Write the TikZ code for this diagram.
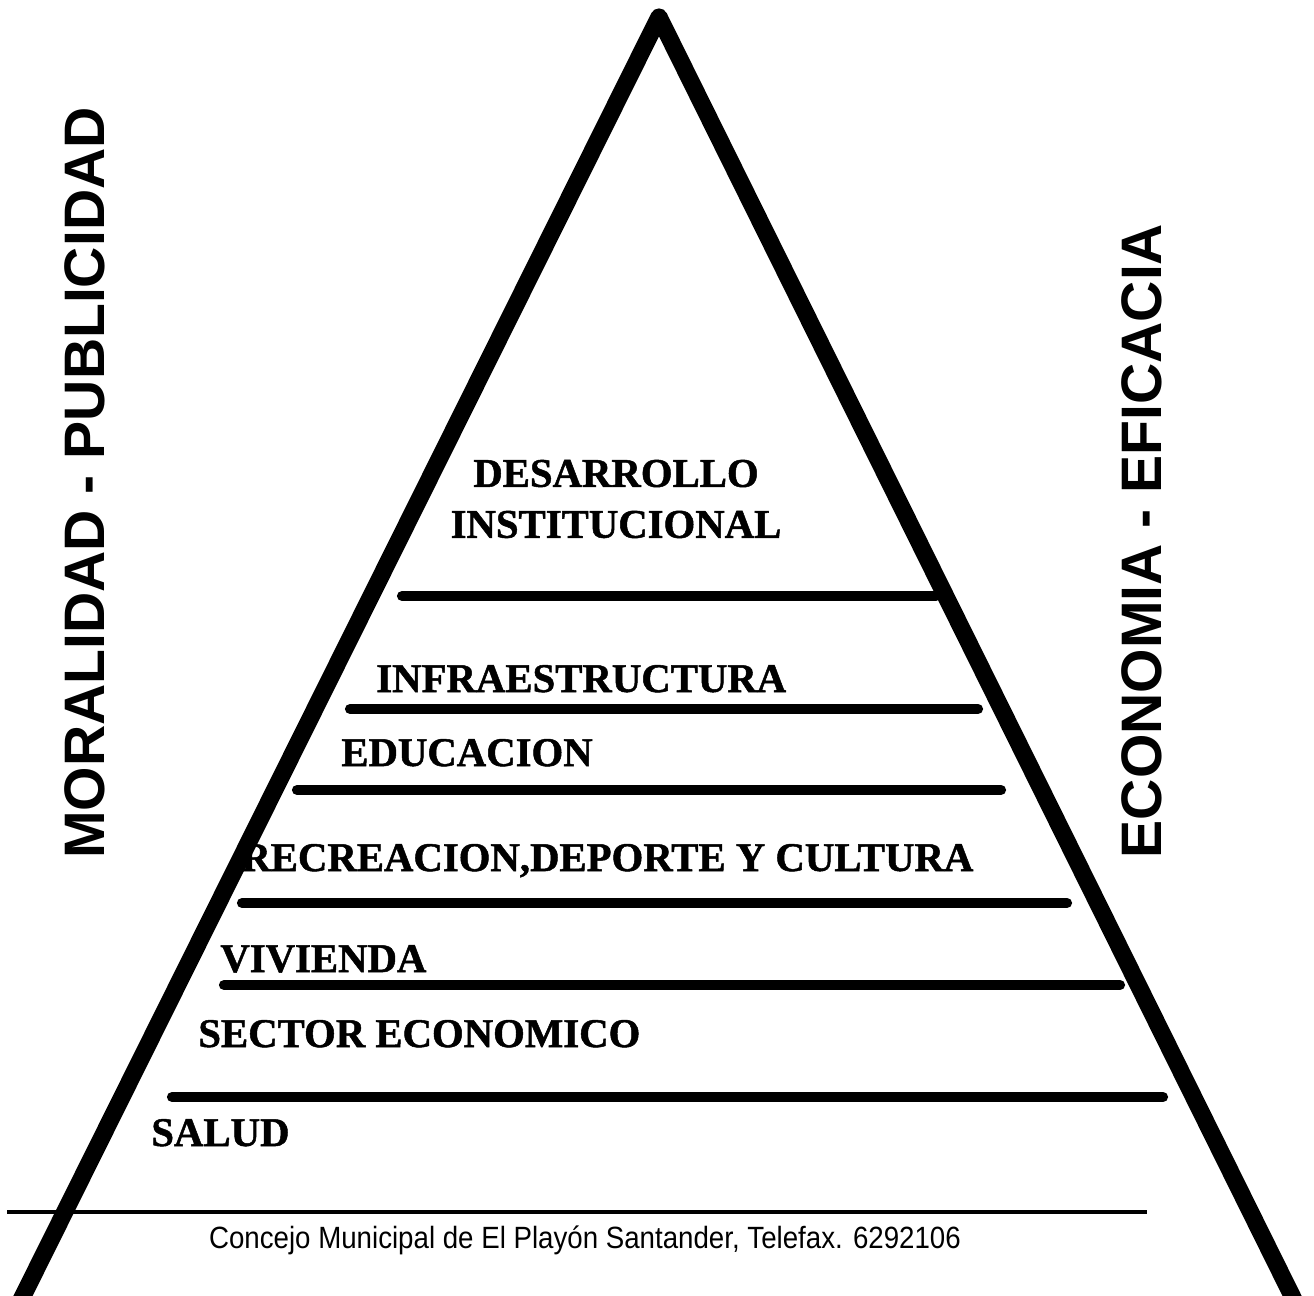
\documentclass[tikz,border=0pt]{standalone}
\usepackage{fontspec}
\setmainfont{Liberation Serif}[BoldFeatures={FakeBold=1.2}]
\newfontfamily\sidefont{Liberation Sans}
\usetikzlibrary{positioning, calc}

\begin{document}
\begin{tikzpicture}[
  x=0.02cm, y=-0.02cm,
  side/.style={line width=9.8pt, line join=round, line cap=round},
  tier/.style={line width=5.8pt, line cap=round},
  footline/.style={line width=2pt},
  level/.style={font=\fontsize{23.2}{29}\selectfont\bfseries, inner sep=0pt, anchor=base west},
  toplevel/.style={font=\fontsize{23.2}{29}\selectfont\bfseries, inner sep=0pt, align=center},
  value/.style={font=\sidefont\fontsize{32.5}{33}\selectfont\bfseries, inner sep=0pt, rotate=90},
  footer/.style={font=\sidefont\fontsize{17.5}{20}\selectfont, inner sep=0pt, anchor=base}
]
  \useasboundingbox (0,0) rectangle (1314,1295);

  % Pyramid
  \coordinate (apex) at (659,17);
  \coordinate (baseleft) at (11,1320);
  \coordinate (baseright) at (1304,1320);
  \draw[side] (baseleft) -- (apex) -- (baseright);

  % Tiers
  \draw[tier] (402,596) -- (936,596);
  \draw[tier] (350,709) -- (978,709);
  \draw[tier] (297,790) -- (1001,790);
  \draw[tier] (242,903) -- (1067,903);
  \draw[tier] (224,985) -- (1120,985);
  \draw[tier] (172,1097) -- (1163,1097);

  % Labels
  \node[toplevel] (desarrollo) at (616,499) {DESARROLLO\\INSTITUCIONAL};
  \node[level] (infra) at (376,692) {INFRAESTRUCTURA};
  \node[level] (educacion) at (341,766) {EDUCACION};
  \node[level] (recreacion) at (241,871) {RECREACION,DEPORTE Y CULTURA};
  \node[level] (vivienda) at (220,972) {VIVIENDA};
  \node[level] (sector) at (198,1047) {SECTOR ECONOMICO};
  \node[level] (salud) at (151,1146) {SALUD};

  % Principles
  \node[value] (moralidad) at (85,483) {MORALIDAD - PUBLICIDAD};
  \node[value] (economia) at (1142,541) {ECONOMIA - EFICACIA};

  % Footer
  \draw[footline] (7,1212) -- (1147,1212);
  \node[footer] (concejo) at (585,1248) {\scalebox{0.9}[1]{Concejo Municipal de El Playón Santander, Telefax. 6292106}};
\end{tikzpicture}
\end{document}
